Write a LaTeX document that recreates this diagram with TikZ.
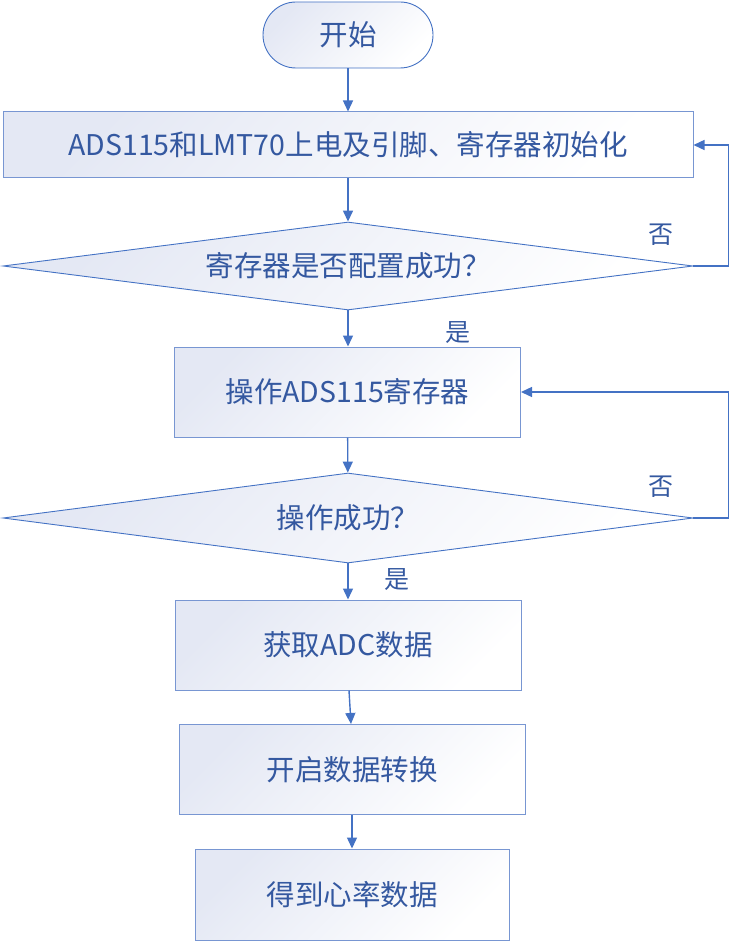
\documentclass[tikz,border=0pt]{standalone}
\usepackage{fontspec}
\setmainfont{Noto Sans CJK SC}
\usetikzlibrary{shapes.geometric,arrows.meta}
\definecolor{lineblue}{RGB}{68,114,196}
\definecolor{edgeblue}{RGB}{120,150,210}
\definecolor{txtblue}{RGB}{52,88,160}
\definecolor{shadeblue}{RGB}{228,232,244}
\tikzset{
  shadedfill/.style={top color=shadeblue, bottom color=white, shading angle=45},
  procbox/.style={rectangle, draw=edgeblue, line width=1pt, shadedfill, inner sep=0pt, text=txtblue, font=\fontsize{28.5}{32}\selectfont},
  decbox/.style={diamond, aspect=7.84, draw=lineblue, line width=0.9pt, shadedfill, inner sep=0pt, text=txtblue, font=\fontsize{28.5}{32}\selectfont},
  termbox/.style={rectangle, rounded corners=33pt, draw=lineblue, line width=0.9pt, shadedfill, inner sep=0pt, text=txtblue, font=\fontsize{28.5}{32}\selectfont},
  flow/.style={draw=lineblue, line width=1.4pt, -{Triangle[length=11pt,width=10pt]}},
  lbl/.style={text=txtblue, font=\fontsize{25}{28}\selectfont, inner sep=0pt},
}
\begin{document}
\begin{tikzpicture}[x=1pt,y=-1pt]
\useasboundingbox (0,0) rectangle (731,941);
\node[termbox, minimum width=170pt, minimum height=66pt] (start) at (348,35) {开始};
\node[procbox, minimum width=690pt, minimum height=66pt] (b1) at (348,145) {ADS115和LMT70上电及引脚、寄存器初始化};
\node[decbox, minimum width=690pt, minimum height=88pt] (d1) at (348,266) {寄存器是否配置成功？};
\node[procbox, minimum width=346pt, minimum height=90pt] (b2) at (347.5,392) {操作ADS115寄存器};
\node[decbox, minimum width=690pt, minimum height=90pt] (d2) at (348,518) {操作成功？};
\node[procbox, minimum width=346pt, minimum height=90pt] (b3) at (348,645) {获取ADC数据};
\node[procbox, minimum width=346pt, minimum height=90pt] (b4) at (352,769.5) {开启数据转换};
\node[procbox, minimum width=314pt, minimum height=91pt] (b5) at (352,894.5) {得到心率数据};
\node[lbl] (no1) at (661,235) {否};
\node[lbl] (yes1) at (458,333) {是};
\node[lbl] (no2) at (661,487) {否};
\node[lbl] (yes2) at (397,580) {是};
\draw[flow] (start) -- (b1);
\draw[flow] (b1) -- (d1);
\draw[flow] (d1.south) -- (b2.north -| d1.south);
\draw[flow] (b2) -- (d2);
\draw[flow] (d2.south) -- (b3.north -| d2.south);
\draw[flow] ([xshift=1pt]b3.south) -- ([xshift=-1pt]b4.north);
\draw[flow] (b4) -- (b5);
\draw[flow] (d1.east) -- ++(35,0) |- (b1.east);
\draw[flow] (d2.east) -- ++(35,0) |- (b2.east);
\end{tikzpicture}
\end{document}
